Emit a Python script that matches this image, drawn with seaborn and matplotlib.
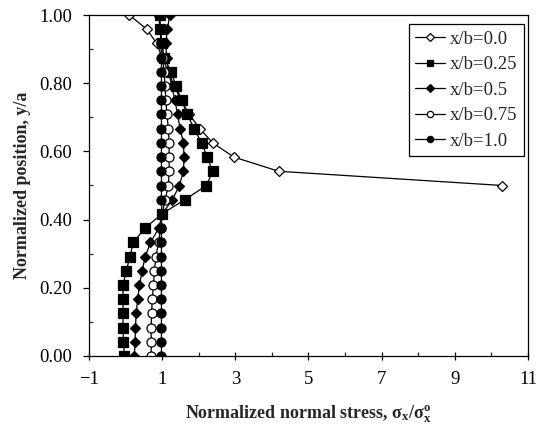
import numpy as np
import pandas as pd
import matplotlib
matplotlib.use("Agg")
import matplotlib.pyplot as plt
import seaborn as sns

# normalized position y/a (k/24 steps)
pos_full = [k / 24 for k in range(25)]
pos_top = pos_full[12:]

# normalized normal stress for each x/b section
s_00 = [10.30, 4.19, 2.96, 2.38, 2.03, 1.74, 1.52, 1.33, 1.17, 1.00, 0.85, 0.58, 0.10]
s_025 = [-0.03, -0.06, -0.07, -0.07, -0.07, -0.07, 0.02, 0.12, 0.21, 0.53, 0.99, 1.62,
         2.21, 2.38, 2.23, 2.08, 1.87, 1.69, 1.53, 1.38, 1.24, 1.05, 1.00, 0.94, 0.94]
s_05 = [0.24, 0.26, 0.27, 0.29, 0.33, 0.38, 0.45, 0.54, 0.68, 0.91, 1.00, 1.28,
        1.47, 1.58, 1.60, 1.58, 1.49, 1.42, 1.35, 1.26, 1.18, 1.12, 1.10, 1.14, 1.21]
s_075 = [0.70, 0.70, 0.70, 0.71, 0.73, 0.76, 0.79, 0.83, 0.90, 0.96, 1.00, 1.08,
         1.17, 1.19, 1.19, 1.19, 1.17, 1.13, 1.10, 1.08, 1.05, 1.01, 0.98, 0.94, 0.91]
s_10 = [0.98, 0.98, 0.98, 0.98, 0.98, 0.98, 0.98, 0.98, 0.98, 0.98, 0.99, 0.98,
        0.98, 0.98, 0.98, 0.98, 0.98, 0.98, 0.98, 0.98, 0.98, 0.98, 0.97, 0.95, 0.92]

labels = ["x/b=0.0", "x/b=0.25", "x/b=0.5", "x/b=0.75", "x/b=1.0"]

sns.set_style("ticks")
plt.rcParams["font.family"] = ["Liberation Serif", "DejaVu Serif"]
plt.rcParams["mathtext.fontset"] = "custom"
plt.rcParams["mathtext.rm"] = "Liberation Serif"
plt.rcParams["mathtext.it"] = "Liberation Serif:italic"
plt.rcParams["mathtext.bf"] = "Liberation Serif:bold"

fig = plt.figure(figsize=(5.44, 4.29), dpi=100)
ax = fig.add_axes([89 / 544, 1 - 356 / 429, 439 / 544, 341 / 429])

series = [
    (s_00, pos_top, "D", "white", 5.5),
    (s_025, pos_full, "s", "black", 6.5),
    (s_05, pos_full, "D", "black", 5.5),
    (s_075, pos_full, "o", "white", 6.5),
    (s_10, pos_full, "o", "black", 6.5),
]
for (xs, ys, mk, fc, ms), lab in zip(series, labels):
    sns.lineplot(x=xs, y=ys, sort=False, estimator=None, orient="y", ax=ax,
                 color="black", linewidth=0.9,
                 marker=mk, markersize=ms, markerfacecolor=fc,
                 markeredgecolor="black", markeredgewidth=0.9, label=lab)

ax.set_xlim(-1, 11)
ax.set_ylim(0, 1)
ax.set_xticks(np.arange(-1, 12, 2))
ax.set_xticks(np.arange(0, 11, 2), minor=True)
ax.set_yticks(np.arange(0, 1.01, 0.2))
ax.set_yticks(np.arange(0.1, 1.0, 0.2), minor=True)
ax.set_yticklabels([f"{v:.2f}" for v in np.arange(0, 1.01, 0.2)])

ax.tick_params(axis="x", which="major", direction="inout", length=6, width=0.9,
               labelsize=13.5, pad=8, colors="black")
ax.tick_params(axis="x", which="minor", direction="in", length=3, width=0.9)
ax.tick_params(axis="y", which="major", direction="out", length=4, width=0.9,
               labelsize=13.5, pad=8, colors="black")
ax.tick_params(axis="y", which="minor", direction="in", length=3, width=0.9)
for sp in ax.spines.values():
    sp.set_color("black")
    sp.set_linewidth(0.9)

ax.set_xlabel(r"Normalized normal stress, $\mathbf{σ_x/σ_x^o}$",
              fontsize=13, fontweight="bold", labelpad=11)
ax.set_ylabel("Normalized position, y/a", fontsize=13, fontweight="bold", labelpad=6)

leg = ax.legend(loc="upper right", bbox_to_anchor=(0.991, 0.974), fontsize=13.5,
                frameon=True, fancybox=False, framealpha=1, edgecolor="black",
                handlelength=1.6, handletextpad=0.25, labelspacing=0.45,
                borderpad=0.35, borderaxespad=0.0)
leg.get_frame().set_linewidth(0.9)
for h in leg.get_lines():
    h.set_markersize(4.5)

fig.savefig("out.png", dpi=100)
